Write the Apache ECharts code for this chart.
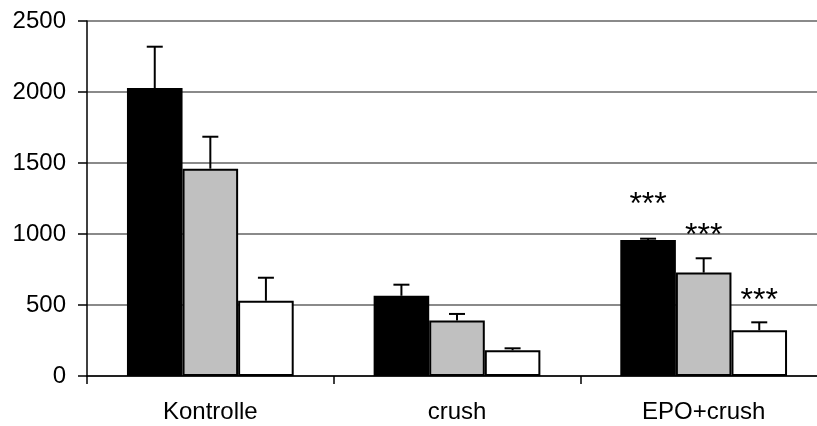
<!DOCTYPE html>
<html>
<head>
<meta charset="utf-8">
<script src="https://cdn.jsdelivr.net/npm/echarts@6/dist/echarts.min.js"></script>
<style>html,body{margin:0;padding:0;background:#fff;overflow:hidden;}#c{width:840px;height:426px;}</style>
</head>
<body>
<div id="c"></div>
<script>
var categories = ['Kontrolle', 'crush', 'EPO+crush'];
var yTicks = [0, 500, 1000, 1500, 2000, 2500];
var seriesA = [2028, 565, 958];   // black
var seriesB = [1460, 390, 728];   // grey
var seriesC = [530, 181, 322];    // white
var errA = [2319, 643, 967];
var errB = [1685, 437, 829];
var errC = [692, 195, 378];
var sigText = ['', '', '***'];
var sigA = [0, 0, 1205];
var sigB = [0, 0, 985];
var sigC = [0, 0, 525];

var GAP = 0.324;
var FONT = 'Liberation Sans, Arial, sans-serif';

function errSeries(si, means, errs, sigs) {
  var data = means.map(function (m, i) { return [i, m, errs[i], sigs[i]]; });
  return {
    type: 'custom',
    z: 3,
    silent: true,
    renderItem: function (params, api) {
      var ci = api.value(0);
      var base = api.coord([ci, api.value(1)]);
      var top = api.coord([ci, api.value(2)]);
      var band = api.size([1, 0])[0];
      var bw = band * (1 - GAP) / 3;
      var x = base[0] + (si - 1) * bw;
      var cap = 8;
      var children = [
        { type: 'line', shape: { x1: x, y1: base[1], x2: x, y2: top[1] }, style: { stroke: '#000', lineWidth: 2 } },
        { type: 'line', shape: { x1: x - cap, y1: top[1], x2: x + cap, y2: top[1] }, style: { stroke: '#000', lineWidth: 2 } }
      ];
      var t = sigText[ci];
      if (t) {
        var sp = api.coord([ci, api.value(3)]);
        children.push({
          type: 'text',
          style: { text: t, x: x, y: sp[1], align: 'center', verticalAlign: 'middle', fontSize: 32, fontFamily: FONT, fill: '#000' }
        });
      }
      return { type: 'group', children: children };
    },
    data: data
  };
}

var chart = echarts.init(document.getElementById('c'), null, { renderer: 'canvas', width: 840, height: 426 });
chart.setOption({
  animation: false,
  backgroundColor: '#fff',
  grid: { left: 87, top: 21, bottom: 50, right: 13, containLabel: false },
  xAxis: {
    type: 'category',
    data: categories,
    boundaryGap: true,
    axisLine: { show: true, lineStyle: { color: '#000', width: 1.5 } },
    axisTick: { show: true, inside: false, length: 8, lineStyle: { color: '#000', width: 1.5 } },
    axisLabel: { fontSize: 24, fontFamily: FONT, color: '#000', margin: 24 },
    splitLine: { show: false }
  },
  yAxis: {
    type: 'value',
    min: yTicks[0],
    max: yTicks[yTicks.length - 1],
    interval: 500,
    axisLine: { show: true, lineStyle: { color: '#000', width: 1.5 } },
    axisTick: { show: true, inside: false, length: 9, lineStyle: { color: '#000', width: 1.5 } },
    axisLabel: { fontSize: 24, fontFamily: FONT, color: '#000', margin: 21, formatter: function (v) { return String(v); } },
    splitLine: { show: true, lineStyle: { color: '#8a8a8a', width: 2 } }
  },
  series: [
    { type: 'bar', data: seriesA, barGap: '0%', barCategoryGap: (GAP * 100) + '%', itemStyle: { color: '#000', borderColor: '#000', borderWidth: 2 }, z: 2 },
    { type: 'bar', data: seriesB, barGap: '0%', barCategoryGap: (GAP * 100) + '%', itemStyle: { color: '#c0c0c0', borderColor: '#000', borderWidth: 2 }, z: 2 },
    { type: 'bar', data: seriesC, barGap: '0%', barCategoryGap: (GAP * 100) + '%', itemStyle: { color: '#fff', borderColor: '#000', borderWidth: 2 }, z: 2 },
    errSeries(0, seriesA, errA, sigA),
    errSeries(1, seriesB, errB, sigB),
    errSeries(2, seriesC, errC, sigC)
  ]
});
</script>
</body>
</html>
